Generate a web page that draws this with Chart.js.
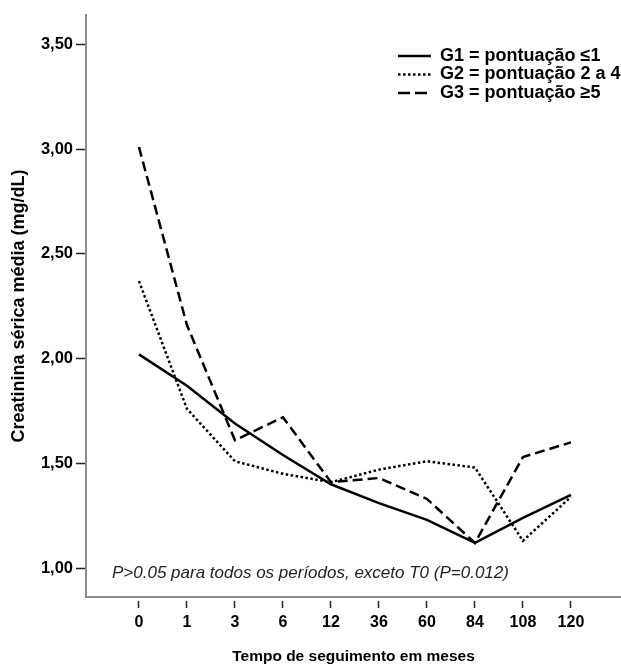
<!DOCTYPE html>
<html lang="pt">
<head>
<meta charset="UTF-8">
<title>Creatinina sérica média</title>
<script src="https://cdn.jsdelivr.net/npm/chart.js"></script>
<style>
  body { margin: 0; background: #fff; }
</style>
</head>
<body>
<canvas id="myChart" width="621" height="666"></canvas>
<script>
// categorias (meses de seguimento)
const months = ['0', '1', '3', '6', '12', '36', '60', '84', '108', '120'];
// creatinina sérica média (mg/dL) por grupo
const g1 = [2.02, 1.87, 1.69, 1.54, 1.40, 1.31, 1.23, 1.12, 1.24, 1.35];
const g2 = [2.37, 1.76, 1.51, 1.45, 1.41, 1.47, 1.51, 1.48, 1.13, 1.34];
const g3 = [3.01, 2.16, 1.61, 1.72, 1.41, 1.43, 1.33, 1.12, 1.53, 1.60];
const seriesNames = ['G1 = pontuação ≤1', 'G2 = pontuação 2 a 4', 'G3 = pontuação ≥5'];
const yTickValues = [1.0, 1.5, 2.0, 2.5, 3.0, 3.5];
const yTickLabels = ['1,00', '1,50', '2,00', '2,50', '3,00', '3,50'];
const yTitle = 'Creatinina sérica média (mg/dL)';
const xTitle = 'Tempo de seguimento em meses';
const note = 'P>0.05 para todos os períodos, exceto T0 (P=0.012)';

const FONT = '"Liberation Sans", Arial, sans-serif';
const dashes = [[], [2.5, 2.5], [10, 5]];

function pts(arr) {
  return arr.map((v, i) => ({ x: i, y: v }));
}

// legenda e nota desenhadas dentro da área
const extras = {
  id: 'extras',
  afterDraw(chart) {
    const ctx = chart.ctx;
    const area = chart.chartArea;
    ctx.save();
    ctx.font = 'bold 18px ' + FONT;
    ctx.textBaseline = 'middle';
    ctx.fillStyle = '#000';
    seriesNames.forEach((name, i) => {
      const y = 56 + i * 18.5;
      ctx.beginPath();
      ctx.setLineDash(i === 2 ? [12, 5] : dashes[i]);
      ctx.lineWidth = 2.5;
      ctx.strokeStyle = '#000';
      ctx.moveTo(398, y);
      ctx.lineTo(431, y);
      ctx.stroke();
      ctx.setLineDash([]);
      ctx.fillText(name, 440, y);
    });
    ctx.font = 'italic 17px ' + FONT;
    ctx.fillStyle = '#222';
    ctx.fillText(note, area.left + 26, 573);
    ctx.restore();
  }
};

new Chart(document.getElementById('myChart'), {
  type: 'line',
  data: {
    datasets: [g1, g2, g3].map((arr, i) => ({
      label: seriesNames[i],
      data: pts(arr),
      borderColor: '#000',
      borderWidth: 2.5,
      borderDash: dashes[i],
      borderCapStyle: 'butt',
      pointRadius: 0,
      tension: 0,
      fill: false
    }))
  },
  options: {
    responsive: false,
    animation: false,
    layout: { padding: { top: 15, right: 0, left: 0, bottom: 0 } },
    plugins: {
      legend: { display: false },
      tooltip: { enabled: false }
    },
    scales: {
      x: {
        type: 'linear',
        min: -1.103,
        max: 10.043,
        afterBuildTicks: s => { s.ticks = months.map((m, i) => ({ value: i })); },
        afterFit: s => { s.height = 69; },
        ticks: {
          autoSkip: false,
          maxRotation: 0,
          padding: 5,
          color: '#000',
          font: { family: FONT, size: 16, weight: 'bold' },
          callback: (v) => months[v]
        },
        grid: {
          drawOnChartArea: false,
          tickLength: 11,
          tickColor: '#222',
          tickWidth: 1.5,
          tickBorderDash: [0, 3, 8, 100]
        },
        border: { color: '#8c8c8c', width: 2 },
        title: {
          display: true,
          text: xTitle,
          color: '#000',
          font: { family: FONT, size: 15.5, weight: 'bold' },
          padding: { top: 0, bottom: 0 }
        }
      },
      y: {
        min: 0.862,
        max: 3.64,
        afterBuildTicks: s => { s.ticks = yTickValues.map(v => ({ value: v })); },
        afterFit: s => { s.width = 86; },
        ticks: {
          padding: 3,
          color: '#000',
          font: { family: FONT, size: 16.5, weight: 'bold' },
          callback: (v) => yTickLabels[yTickValues.indexOf(v)]
        },
        grid: {
          drawOnChartArea: false,
          tickLength: 10,
          tickColor: '#222',
          tickWidth: 1.5
        },
        border: { color: '#8c8c8c', width: 2 },
        title: {
          display: true,
          text: yTitle,
          color: '#000',
          font: { family: FONT, size: 18, weight: 'bold' },
          padding: { top: 8, bottom: 0 }
        }
      }
    }
  },
  plugins: [extras]
});
</script>
</body>
</html>
